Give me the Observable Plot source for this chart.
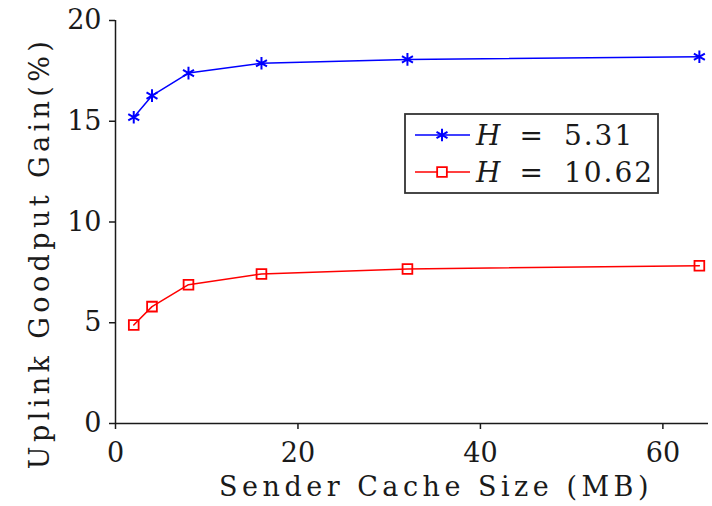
<!DOCTYPE html>
<html><head><meta charset="utf-8">
<script src="https://cdn.jsdelivr.net/npm/d3@7"></script>
<script src="https://cdn.jsdelivr.net/npm/@observablehq/plot@0.6"></script>
<style>body{margin:0;background:#fff}</style>
</head><body><div id="chart"></div>
<script>
const cacheSizes = [2, 4, 8, 16, 32, 64];
const gainH531 = [15.2, 16.27, 17.39, 17.88, 18.07, 18.2];
const gainH1062 = [4.89, 5.8, 6.89, 7.42, 7.67, 7.83];
const seriesNames = ["H = 5.31", "H = 10.62"];
const seriesValues = ["5.31", "10.62"];
const seriesColors = ["#0000ff", "#ff0000"];
const xTicks = [0, 20, 40, 60];
const yTicks = [0, 5, 10, 15, 20];
const xLabel = "Sender Cache Size (MB)";
const yLabel = "Uplink Goodput Gain(%)";

const FONT = "DejaVu Serif";
const blue = cacheSizes.map((x, i) => ({x, y: gainH531[i], s: seriesNames[0]}));
const red = cacheSizes.map((x, i) => ({x, y: gainH1062[i], s: seriesNames[1]}));
const data = [...blue, ...red];

const plot = Plot.plot({
  width: 712, height: 506,
  marginLeft: 115, marginTop: 20, marginRight: 4, marginBottom: 83,
  style: {fontFamily: FONT, fontSize: "27px", color: "#1a1a1a", background: "#fff"},
  x: {domain: [0, 65]},
  y: {domain: [0, 20]},
  color: {domain: seriesNames, range: seriesColors},
  marks: [
    Plot.axisX({ticks: xTicks, tickSize: 6, tickPadding: 13, label: null, strokeWidth: 1.5}),
    Plot.axisY({ticks: yTicks, tickSize: 6, tickPadding: 8, label: null, strokeWidth: 1.5}),
    Plot.ruleX([0], {strokeWidth: 1.5, stroke: "#1a1a1a"}),
    Plot.ruleY([0], {strokeWidth: 1.5, stroke: "#1a1a1a"}),
    Plot.line(data, {x: "x", y: "y", z: "s", stroke: "s", strokeWidth: 1.5}),
    Plot.dot(blue, {x: "x", y: "y", symbol: "asterisk", r: 6, stroke: seriesColors[0], strokeWidth: 2}),
    Plot.dot(red, {x: "x", y: "y", symbol: "square", r: 5.5, stroke: seriesColors[1], fill: "none", strokeWidth: 1.8}),
    Plot.text([xLabel], {frameAnchor: "bottom", textAnchor: "middle", dy: 72, dx: 24, text: d => d, fontSize: 27, fill: "#1a1a1a", className: "xlab"}),
    Plot.text([yLabel], {frameAnchor: "left", textAnchor: "middle", lineAnchor: "middle", dx: -75, dy: 31, rotate: -90, text: d => d, fontSize: 27, fill: "#1a1a1a", className: "ylab"})
  ]
});
document.getElementById("chart").appendChild(plot);

const svg = d3.select(plot);
svg.selectAll('.xlab text').attr("letter-spacing", "4.5px");
svg.selectAll('.ylab text').attr("letter-spacing", "4.4px");

// Legend
const lg = svg.append("g").attr("font-family", FONT).attr("font-size", 28).attr("text-anchor", "start");
lg.append("rect").attr("x", 405).attr("y", 114).attr("width", 253).attr("height", 79)
  .attr("fill", "white").attr("stroke", "#333").attr("stroke-width", 1.8);
const rowsY = [135, 172];
const symbols = [d3.symbolAsterisk, d3.symbolSquare];
const sizes = [Math.PI * 36, Math.PI * 30];
seriesNames.forEach((name, i) => {
  const y = rowsY[i];
  lg.append("line").attr("x1", 415).attr("x2", 470).attr("y1", y).attr("y2", y)
    .attr("stroke", seriesColors[i]).attr("stroke-width", 1.5);
  lg.append("path").attr("d", d3.symbol(symbols[i], sizes[i])()).attr("transform", `translate(442,${y})`)
    .attr("stroke", seriesColors[i]).attr("fill", i === 0 ? "none" : "white").attr("stroke-width", i === 0 ? 2 : 1.8);
  const t = lg.append("text").attr("x", 476).attr("y", y).attr("dy", "0.35em").attr("fill", "#1a1a1a").attr("text-anchor", "start");
  t.append("tspan").attr("font-style", "italic").text("H");
  t.append("tspan").attr("dx", 19).text("=");
  t.append("tspan").attr("dx", 21).attr("letter-spacing", "2px").text(seriesValues[i]);
});
</script>
</body></html>
